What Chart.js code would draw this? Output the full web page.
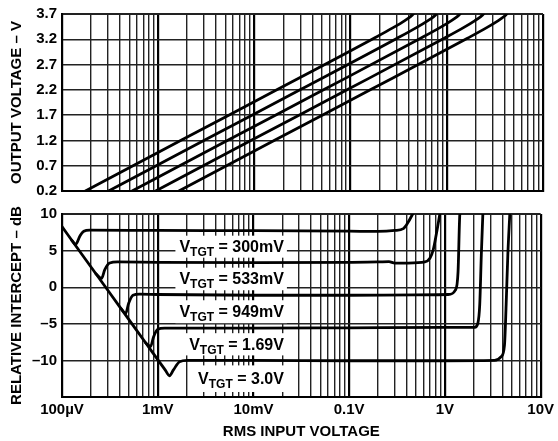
<!DOCTYPE html>
<html>
<head>
<meta charset="utf-8">
<script src="https://cdn.jsdelivr.net/npm/chart.js@4.4.0/dist/chart.umd.min.js"></script>
<style>
  body { margin: 0; background: #fff; }
  #wrap { position: relative; width: 558px; height: 441px; }
  #wrap canvas { position: absolute; left: 0; }
</style>
</head>
<body>
<div id="wrap">
  <canvas id="outChart" width="558" height="205" style="top:0"></canvas>
  <canvas id="icptChart" width="558" height="241" style="top:200px"></canvas>
</div>
<script>
// x axis (shared)
const decades = [1e-4, 1e-3, 1e-2, 1e-1, 1, 10];
const decadeLabels = ['100µV', '1mV', '10mV', '0.1V', '1V', '10V'];

// y axes
const outputTicks = [0.2, 0.7, 1.2, 1.7, 2.2, 2.7, 3.2, 3.7];
const interceptTicks = [-15, -10, -5, 0, 5, 10];

const targets = ['300mV', '533mV', '949mV', '1.69V', '3.0V'];

// output voltage vs RMS input, one input list per target
const vout = [0.2, 1.21, 2.21, 3.22, 3.43, 3.57, 3.65, 3.7];
const vin300 = [0.000175, 0.00175, 0.0175, 0.175, 0.277, 0.366, 0.420, 0.450];
const vin533 = [0.000305, 0.00305, 0.0305, 0.305, 0.483, 0.637, 0.732, 0.784];
const vin949 = [0.000535, 0.00535, 0.0535, 0.535, 0.848, 1.118, 1.283, 1.375];
const vin169 = [0.00094, 0.0094, 0.094, 0.94, 1.49, 1.964, 2.255, 2.416];
const vin300b = [0.00164, 0.0164, 0.164, 1.64, 2.60, 3.43, 3.93, 4.21];

// relative intercept (dB) vs RMS input
const icIn300 = [0.000127, 0.000139, 0.000154, 0.000169, 0.000195, 0.001, 0.01, 0.1, 0.2, 0.30, 0.368, 0.414, 0.46];
const icDb300 = [6.38, 5.86, 7.0, 7.65, 7.8, 7.75, 7.72, 7.65, 7.62, 7.75, 8.0, 8.9, 10];
const icIn533 = [0.000226, 0.000259, 0.00028, 0.000315, 0.000382, 0.001, 0.01, 0.1, 0.2, 0.26, 0.30, 0.414, 0.618, 0.697, 0.754, 0.816, 0.885];
const icDb533 = [1.84, 1.2, 2.4, 3.3, 3.45, 3.4, 3.35, 3.4, 3.45, 3.5, 3.3, 3.3, 3.45, 3.95, 5.08, 7.36, 10];
const icIn949 = [0.00041, 0.000463, 0.000497, 0.000551, 0.000647, 0.001, 0.01, 0.1, 0.5, 1.079, 1.285, 1.371, 1.429, 1.435];
const icDb949 = [-2.86, -3.57, -2.2, -1.1, -0.95, -1.0, -1.1, -1.1, -1.05, -1.0, -0.4, 2.1, 9.86, 10];
const icIn169 = [0.000747, 0.000842, 0.000904, 0.001, 0.001178, 0.01, 0.1, 1, 2.046, 2.21, 2.31, 2.40, 2.49];
const icDb169 = [-7.59, -8.1, -6.8, -5.75, -5.6, -5.6, -5.55, -5.5, -5.5, -4.9, -2.4, 4.4, 10];
const icIn30 = [0.0001, 0.000127, 0.000226, 0.00041, 0.000747, 0.0012, 0.001327, 0.001459, 0.001685, 0.00204, 0.01, 0.1, 1, 3.30, 3.87, 4.19, 4.36, 4.54, 4.76];
const icDb30 = [8.27, 6.38, 1.84, -2.86, -7.59, -11.33, -12.1, -11.3, -10.2, -10.0, -10.0, -10.05, -10.05, -10.0, -9.5, -7.9, -2.4, 4.4, 10];

const FONT = '"Liberation Sans", Arial, Helvetica, sans-serif';
Chart.defaults.font.family = FONT;
Chart.defaults.font.size = 15;
Chart.defaults.font.weight = 'bold';
Chart.defaults.color = '#000';

const pts = (xs, ys) => xs.map((x, i) => ({ x: x, y: ys[i] }));
const decadeIndex = v => decades.findIndex(d => Math.abs(Math.log10(v / d)) < 1e-6);

function curve(data) {
  return {
    data: data,
    showLine: true,
    borderColor: '#000',
    borderWidth: 2.8,
    pointRadius: 0,
    fill: false,
    cubicInterpolationMode: 'monotone',
    borderJoinStyle: 'round',
    borderCapStyle: 'round'
  };
}

function inputAxis(withLabels) {
  return {
    type: 'logarithmic',
    min: 1e-4,
    max: 10,
    afterBuildTicks: s => {
      const t = [];
      decades.slice(0, -1).forEach(d => {
        for (let m = 1; m < 10; m++) t.push({ value: d * m });
      });
      t.push({ value: 10 });
      s.ticks = t;
    },
    afterFit: s => { s.height = withLabels ? 44 : 14; },
    grid: {
      color: c => decadeIndex(c.tick.value) >= 0 ? '#000' : '#222',
      lineWidth: c => decadeIndex(c.tick.value) >= 0 ? 2.2 : 1.4,
      drawTicks: false
    },
    border: { color: '#000', width: 2 },
    ticks: {
      display: withLabels,
      autoSkip: false,
      maxRotation: 0,
      padding: 4,
      callback: v => {
        const i = decadeIndex(v);
        return i >= 0 ? decadeLabels[i] : '';
      }
    },
    title: { display: withLabels, text: 'RMS INPUT VOLTAGE', padding: { top: 0, bottom: 0 } }
  };
}

function valueAxis(ticks, top, title, fmt) {
  return {
    min: ticks[0],
    max: ticks[ticks.length - 1],
    afterBuildTicks: s => { s.ticks = ticks.map(v => ({ value: v })); },
    afterFit: s => { s.width = 62; },
    grid: {
      color: '#222',
      lineWidth: c => c.tick.value === top ? 2 : 1.4,
      drawTicks: false
    },
    border: { color: '#000', width: 2 },
    ticks: { padding: 5, callback: fmt },
    title: { display: true, text: title, padding: { top: 8, bottom: 0 } }
  };
}

// right edge of the V_TGT captions, in volts
const captionRight = 0.0208;

function levelAt(data, v) {
  let best = data[0];
  data.forEach(p => {
    if (Math.abs(Math.log10(p.x / v)) < Math.abs(Math.log10(best.x / v))) best = p;
  });
  return best.y;
}

// white-backed V_TGT captions sitting between the intercept curves
const targetCaptions = {
  id: 'targetCaptions',
  beforeDatasetsDraw(chart) {
    const { ctx, scales: { x, y } } = chart;
    const sets = chart.data.datasets;
    const xr = x.getPixelForValue(captionRight);
    const big = 'bold 16px ' + FONT;
    const small = 'bold 12px ' + FONT;
    ctx.save();
    targets.forEach((name, i) => {
      const top = y.getPixelForValue(levelAt(sets[i].data, captionRight)) + 5;
      const bottom = (i + 1 < sets.length
        ? y.getPixelForValue(levelAt(sets[i + 1].data, captionRight))
        : y.bottom) - 5;
      const tail = ' = ' + name;
      ctx.font = big;
      const wV = ctx.measureText('V').width;
      const wTail = ctx.measureText(tail).width;
      ctx.font = small;
      const wSub = ctx.measureText('TGT').width;
      const w = wV + wSub + wTail;
      const left = xr - w;

      ctx.fillStyle = '#fff';
      ctx.fillRect(left - 4, top, w + 7, bottom - top);

      const base = (top + bottom) / 2 + 5.5;
      ctx.fillStyle = '#000';
      ctx.textAlign = 'left';
      ctx.textBaseline = 'alphabetic';
      ctx.font = big;
      ctx.fillText('V', left, base);
      ctx.font = small;
      ctx.fillText('TGT', left + wV, base + 4);
      ctx.font = big;
      ctx.fillText(tail, left + wV + wSub, base);
    });
    ctx.restore();
  }
};

const common = {
  responsive: false,
  animation: false,
  plugins: { legend: { display: false }, tooltip: { enabled: false } }
};

new Chart(document.getElementById('outChart'), {
  type: 'scatter',
  data: {
    datasets: [
      curve(pts(vin300, vout)),
      curve(pts(vin533, vout)),
      curve(pts(vin949, vout)),
      curve(pts(vin169, vout)),
      curve(pts(vin300b, vout))
    ]
  },
  options: Object.assign({}, common, {
    layout: { padding: { top: 12, right: 15, bottom: 0, left: 0 } },
    scales: {
      x: inputAxis(false),
      y: valueAxis(outputTicks, 3.7, 'OUTPUT VOLTAGE – V', v => v.toFixed(1))
    }
  })
});

new Chart(document.getElementById('icptChart'), {
  type: 'scatter',
  data: {
    datasets: [
      curve(pts(icIn300, icDb300)),
      curve(pts(icIn533, icDb533)),
      curve(pts(icIn949, icDb949)),
      curve(pts(icIn169, icDb169)),
      curve(pts(icIn30, icDb30))
    ]
  },
  options: Object.assign({}, common, {
    layout: { padding: { top: 14, right: 15, bottom: 0, left: 0 } },
    scales: {
      x: inputAxis(true),
      y: valueAxis(interceptTicks, 10, 'RELATIVE INTERCEPT – dB',
        v => v === -15 ? '' : (v < 0 ? '\u2013' + Math.abs(v) : String(v)))
    }
  }),
  plugins: [targetCaptions]
});
</script>
</body>
</html>
